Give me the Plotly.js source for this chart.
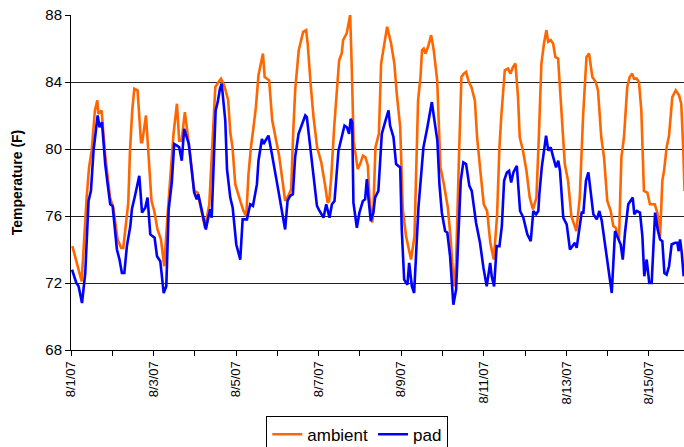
<!DOCTYPE html>
<html>
<head>
<meta charset="utf-8">
<script src="https://cdn.plot.ly/plotly-3.0.1.min.js"></script>
<style>html,body{margin:0;padding:0;background:#fff;}#chart{width:684px;height:447px;}</style>
</head>
<body>
<div id="chart"></div>
<script>
// Hours elapsed since 8/1/07 00:00, and temperature (F)
const ambientHours = [0.8,6.2,9.1,10.5,12.0,13.9,15.3,15.9,17.8,19.8,22.7,24.6,27.1,29.1,30.4,33.3,34.3,35.6,36.8,38.7,40.7,41.4,43.6,44.9,46.8,48.4,50.3,52.3,54.2,56.1,58.1,59.6,61.6,62.9,64.3,66.2,67.8,69.7,71.7,73.6,75.5,77.9,80.4,82.1,83.9,85.8,87.2,89.1,91.4,92.6,93.9,95.5,97.0,98.4,100.3,101.9,103.2,104.6,106.1,107.5,109.0,110.4,111.6,112.6,115.2,117.0,119.3,121.0,123.1,124.5,126.3,128.0,129.2,130.4,132.4,133.8,135.0,136.7,137.6,139.3,141.0,143.1,145.5,147.8,149.2,150.1,151.3,153.0,154.8,155.9,157.4,158.2,160.3,162.3,163.2,164.3,166.7,168.1,169.7,171.2,172.6,173.5,175.1,175.8,177.0,179.0,180.3,182.2,183.8,186.1,188.0,189.4,191.4,192.9,194.8,197.7,199.7,200.4,201.8,203.2,204.1,205.1,206.1,207.6,209.4,210.9,212.9,214.8,216.8,219.1,220.6,222.6,223.9,225.5,227.0,228.4,229.7,231.3,232.8,234.8,236.1,238.0,240.0,241.9,243.8,245.8,247.7,249.1,250.2,252.2,254.1,255.5,257.0,258.4,259.9,260.9,262.8,264.8,266.7,268.6,270.6,272.0,273.5,275.0,276.4,277.4,278.9,280.3,281.6,283.2,285.1,287.1,289.0,290.9,293.8,295.8,297.7,299.7,301.2,303.1,305.1,306.4,308.3,309.9,311.8,313.8,315.3,316.7,318.6,320.0,321.5,323.4,324.8,326.3,327.3,328.9,330.2,331.6,333.1,335.1,336.6,339.4,340.9,342.5,343.8,344.8,346.3,347.7,349.6,351.6,353.5,354.8,356.0,356.7];
const ambientTemp = [74.2,72.1,77.1,78.9,79.9,82.3,82.9,82.1,82.3,79.7,77.1,76.5,74.6,74.1,74.1,76.8,79.9,82.3,83.6,83.5,80.4,80.4,82.0,79.9,76.9,76.3,75.2,74.6,73.0,76.0,78.9,80.9,82.7,80.5,80.5,82.2,80.9,79.3,77.5,77.4,76.5,75.3,76.7,80.2,83.7,84.0,84.2,83.8,82.9,81.0,80.1,77.9,77.3,76.9,76.3,76.0,78.5,80.1,81.3,82.5,84.4,85.0,85.7,84.3,84.1,81.7,80.6,79.6,78.0,76.9,77.2,77.6,81.0,83.6,85.9,86.5,87.0,87.1,86.3,83.9,81.9,80.1,79.2,77.8,76.8,76.9,78.3,81.3,84.2,85.3,85.7,86.5,86.9,88.0,85.0,80.5,78.8,79.1,79.6,79.5,79.0,77.1,75.6,76.4,80.1,80.9,85.1,86.3,87.3,86.3,85.1,83.3,81.3,76.4,74.8,73.4,74.8,77.5,82.9,84.3,85.9,86.0,85.7,86.1,86.8,85.9,84.1,78.9,77.9,76.5,74.8,71.8,73.2,79.3,84.3,84.5,84.6,84.0,83.7,82.9,80.7,78.7,76.7,76.3,74.4,73.4,76.0,80.1,82.0,84.7,84.8,84.5,84.9,85.1,83.1,80.7,79.9,78.7,77.1,76.4,77.1,80.7,85.1,86.3,87.1,86.4,86.5,86.3,85.5,85.4,82.3,79.1,78.1,76.0,75.1,77.1,81.9,85.5,85.7,84.3,84.0,83.5,80.7,79.5,76.9,76.3,75.4,75.3,74.6,79.5,80.7,83.7,84.3,84.5,84.2,84.2,84.0,82.3,77.5,77.4,76.7,76.7,76.2,74.8,78.1,78.7,80.1,80.8,83.1,83.5,83.2,82.7,79.9,77.5];

const padHours = [0.6,3.1,4.4,6.4,8.3,10.2,11.6,13.1,15.5,16.6,18.0,19.9,21.3,22.8,24.2,25.7,26.7,28.2,29.6,31.0,32.5,34.5,35.4,37.4,39.7,41.3,43.2,44.5,46.1,48.6,50.0,51.9,53.9,55.4,56.8,58.6,60.0,61.6,62.9,64.4,65.8,68.5,69.9,71.6,73.1,74.0,75.7,77.1,78.4,79.8,80.9,81.8,83.0,84.1,85.3,86.6,87.6,89.7,90.7,92.6,94.0,96.1,98.4,99.8,102.3,104.2,105.8,108.1,109.0,111.0,111.9,114.8,116.8,118.7,120.6,122.6,124.5,125.9,127.4,129.0,130.3,132.3,134.2,136.2,137.1,139.1,141.0,143.0,144.5,146.8,148.4,150.3,151.7,153.2,155.5,157.5,159.0,160.4,161.7,162.6,163.5,164.2,166.2,167.7,169.7,171.0,172.0,172.9,174.3,175.8,176.8,178.7,180.7,182.6,184.6,185.5,187.5,189.0,191.4,192.3,193.7,195.6,196.6,198.2,199.5,202.0,204.9,207.2,209.8,211.3,213.0,214.2,215.6,217.5,218.8,220.4,221.7,222.3,223.9,225.2,226.6,228.1,229.7,231.6,233.0,235.5,237.8,239.8,241.7,243.7,244.6,246.0,247.5,249.1,250.5,251.8,253.4,254.7,255.9,257.2,259.2,261.1,263.0,265.3,267.3,268.8,270.4,271.7,272.3,273.7,275.0,276.2,277.5,278.9,280.4,282.0,283.3,284.3,286.2,288.2,290.1,291.7,293.0,294.0,295.5,296.9,297.9,299.4,300.8,302.3,303.7,305.7,307.2,308.6,310.5,312.4,314.4,316.3,318.2,319.6,320.8,322.1,324.0,325.4,326.6,327.5,328.9,330.8,332.2,333.3,334.7,336.2,337.6,339.6,341.1,342.5,343.8,345.0,346.3,347.7,349.2,351.2,352.5,353.3,354.1,355.1,356.2];
const padTemp = [72.8,72.0,71.8,70.8,72.6,76.9,77.5,79.9,82.0,81.3,81.6,79.1,77.9,76.7,76.6,75.2,74.0,73.4,72.6,72.6,74.2,75.4,76.4,77.3,78.4,76.2,76.5,77.1,74.9,74.7,73.6,73.3,71.4,71.8,76.4,78.0,80.3,80.2,80.1,79.3,81.2,80.3,78.8,77.4,77.0,77.3,76.5,75.8,75.2,75.9,76.4,75.9,79.7,82.3,82.8,83.6,83.9,81.7,78.8,77.1,76.5,74.3,73.4,75.8,75.8,76.7,76.6,77.9,79.3,80.6,80.3,80.8,79.7,78.7,77.5,76.3,75.2,76.9,77.2,77.3,79.5,80.9,81.5,82.0,81.9,80.1,78.5,76.6,76.3,75.9,76.7,75.9,76.7,76.9,79.9,80.7,81.4,81.3,80.9,81.8,81.6,76.8,75.3,76.2,76.9,77.0,78.2,77.1,75.7,76.2,77.1,77.5,80.9,81.6,82.3,81.4,80.7,79.1,78.9,75.2,72.2,71.9,73.2,71.8,71.4,76.5,80.1,81.3,82.8,81.7,80.5,77.9,76.2,75.1,75.0,73.6,71.4,70.7,71.6,74.6,78.1,79.2,79.1,77.8,77.5,75.6,74.4,72.9,71.8,73.2,72.4,71.8,74.2,74.2,75.4,78.1,78.6,78.7,78.0,78.6,79.0,76.3,75.9,74.9,74.5,76.3,76.1,76.3,77.3,78.9,79.9,80.8,79.9,80.1,79.5,78.9,79.3,78.7,75.9,75.5,74.0,74.2,74.4,74.1,75.2,76.2,76.2,78.1,78.6,77.3,76.1,75.8,76.3,75.7,74.2,72.8,71.4,75.1,74.6,74.3,73.4,75.0,76.7,76.9,77.1,76.1,76.3,76.2,74.8,72.4,73.4,72.0,72.0,76.2,75.2,74.6,74.5,72.6,72.5,73.0,74.3,74.4,74.4,73.9,74.6,73.8,72.4];

const startMs = Date.UTC(2007, 7, 1);
function toDate(h) {
  return new Date(startMs + h * 3600000).toISOString().replace('T', ' ').replace('Z', '');
}

const traces = [
  {x: ambientHours.map(toDate), y: ambientTemp, name: 'ambient', type: 'scatter', mode: 'lines',
   line: {color: '#FF6600', width: 2.6}},
  {x: padHours.map(toDate), y: padTemp, name: 'pad', type: 'scatter', mode: 'lines',
   line: {color: '#0000FF', width: 2.6}}
];

const layout = {
  width: 684, height: 447,
  margin: {l: 71, r: 0, t: 15, b: 97, autoexpand: false},
  paper_bgcolor: '#fff', plot_bgcolor: '#fff',
  font: {family: 'Liberation Sans, Arial, sans-serif', color: '#000'},
  showlegend: true,
  legend: {orientation: 'h', x: 0.467, xanchor: 'center', y: -0.196, yanchor: 'top',
           bordercolor: '#000', borderwidth: 1, font: {size: 17}, traceorder: 'normal'},
  xaxis: {
    type: 'date',
    range: [toDate(0), toDate(356.4)],
    tick0: '2007-08-01', dtick: 2 * 86400000,
    tickformat: '%-m/%-d/%y', tickangle: -90,
    tickfont: {size: 13},
    ticks: 'outside', ticklen: 5, tickcolor: '#000',
    minor: {dtick: 86400000, ticks: 'outside', ticklen: 5, tickcolor: '#000', showgrid: false},
    showline: true, linecolor: '#000', linewidth: 1,
    showgrid: false, zeroline: false
  },
  yaxis: {
    range: [68, 88], tick0: 68, dtick: 4,
    tickfont: {size: 15},
    ticks: 'outside', ticklen: 5, tickcolor: '#000',
    showline: true, linecolor: '#000', linewidth: 1,
    showgrid: true, gridcolor: '#222', gridwidth: 1,
    zeroline: false,
    title: {text: '<b>Temperature (F)</b>', font: {size: 14}, standoff: 19}
  }
};

Plotly.newPlot('chart', traces, layout, {displayModeBar: false, staticPlot: true});
</script>
</body>
</html>
